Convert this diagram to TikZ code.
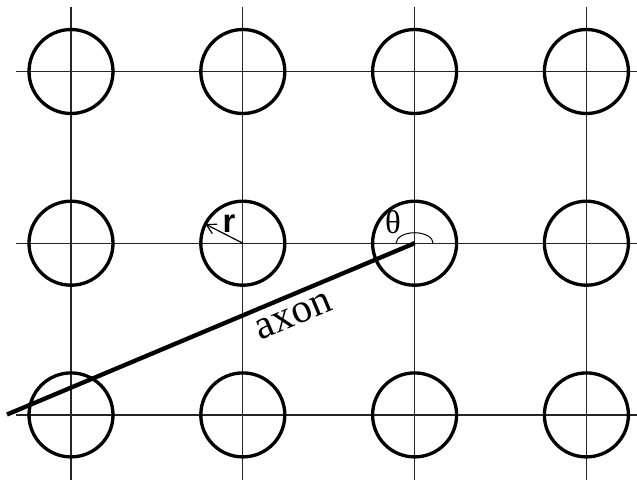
\documentclass[tikz,border=0pt]{standalone}
\usepackage{fontspec}
\setmainfont{Liberation Serif}
\newfontfamily\labelsans{Liberation Sans}
\usepackage{tikz}
\usetikzlibrary{arrows.meta,positioning,calc}

\begin{document}
\begin{tikzpicture}[
  x=0.15mm, y=-0.15mm,
  cell/.style={draw, circle, minimum size=12.6mm, inner sep=0pt, outer sep=0pt, line width=0.5mm},
  gridline/.style={line width=0.2mm, black!85},
  axonline/.style={line width=0.65mm, line cap=butt},
  radius/.style={-{Straight Barb[length=1.4mm, width=1.6mm]}, line width=0.18mm}
]
  \useasboundingbox (0,0) rectangle (637,480);

  % grid lines
  \foreach \c in {0,...,3} \draw[gridline] (71+171.8*\c,7) -- (71+171.8*\c,480);
  \foreach \r in {0,...,2} \draw[gridline] (16,71.5+171.7*\r) -- (637,71.5+171.7*\r);

  % cells
  \foreach \c in {1,...,4}
    \foreach \r in {1,...,3}
      \node[cell] (c\c\r) at (71+171.8*\c-171.8,71.5+171.7*\r-171.7) {};

  % radius and angle
  \draw[radius] (c22.center) -- (c22.153);
  \node[font=\labelsans\bfseries\fontsize{14}{16}\selectfont, inner sep=0pt] (rlab) at (229,224) {r};
  \draw[line width=0.15mm] ($(c32.center)+(-18.5,0)$) arc[start angle=180, end angle=360, x radius=18.5, y radius=10.5];
  \node[font=\fontsize{14}{16}\selectfont, inner sep=0pt] (thlab) at (393,222) {θ};

  % axon
  \coordinate (astart) at (7,414.5);
  \draw[axonline] (astart) -- (c32.center);
  \node[font=\fontsize{17.5}{19}\selectfont, inner sep=0pt, rotate=22.7] (axlab) at (294,316) {axon};
\end{tikzpicture}
\end{document}
